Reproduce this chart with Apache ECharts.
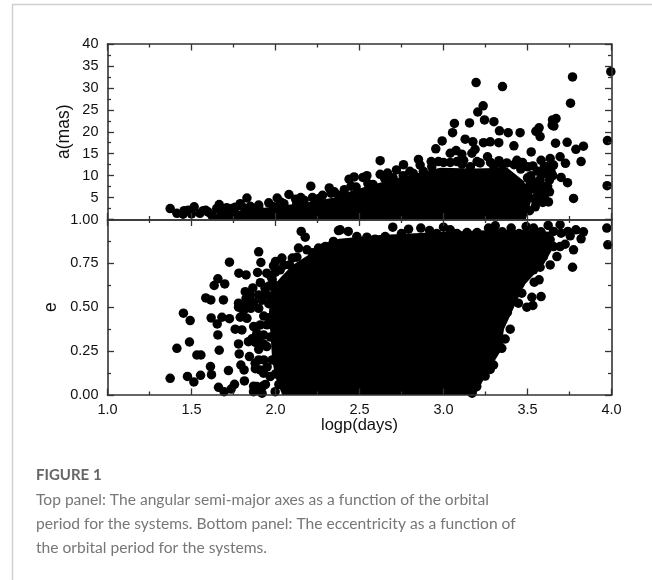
<!DOCTYPE html>
<html><head><meta charset="utf-8">
<style>html,body{margin:0;padding:0;background:#fff}#c{width:652px;height:580px}</style>
<script src="https://cdn.jsdelivr.net/npm/echarts@6/dist/echarts.min.js"></script>
</head><body><div id="c"></div>
<script>
// Fringe points: [logp, a(mas)]
const topPoints = [
[3.194,31.2],[3.351,30.3],[3.768,32.5],[3.756,26.5],[3.996,33.7],[3.976,18.0],[3.974,7.7],[3.236,25.9],[3.204,24.5],[3.244,22.7],
[3.30,22.3],[3.155,22.0],[3.065,21.9],[3.054,19.8],[3.333,20.2],[3.385,19.8],[3.456,19.8],[3.55,20.1],[3.569,20.9],[3.575,18.9],
[3.647,21.5],[3.657,21.3],[3.649,22.7],[3.67,23.0],[3.129,18.3],[3.175,17.7],[3.238,17.5],[3.278,17.7],[3.329,17.5],[2.992,17.9],
[2.954,16.1],[3.419,16.8],[3.667,17.4],[3.736,17.6],[3.788,16.0],[3.833,16.7],[3.819,13.2],[3.522,15.4],[3.04,15.1],[3.075,15.7],
[3.109,14.9],[3.169,15.1],[3.188,16.0],[2.623,13.4],[2.851,13.7],[2.762,12.5],[2.623,10.3],[2.667,10.6],[2.544,10.0],[2.52,9.6],
[2.468,9.7],[2.438,9.2],[2.927,13.2],[2.97,13.2],[2.861,12.4],[3.262,14.3],[3.218,12.9],[3.437,13.5],[3.377,12.9],[3.581,13.5],
[3.635,13.9],[3.694,14.3],[3.726,12.8],[3.532,12.2],[3.615,12.0],[3.655,12.4],[3.70,9.6],[3.738,8.4],[3.774,4.8],[3.575,9.1],
[3.516,8.2],[3.631,9.0],[3.631,6.3],[3.625,4.0],[3.591,3.9],[3.512,2.0],[3.546,2.9],[3.04,13.0],[3.11,12.6],[3.16,12.0],[3.3,12.0],
[3.35,12.4],[3.46,11.5],[3.5,9.5],[3.55,8.5],[3.6,10.5],[3.65,10.0],[3.6,7.0],[3.56,5.5],[3.51,5.0],[3.49,7.0],[2.72,11.3],[2.8,11.0],
[2.7,9.5],[2.58,8.0],[2.48,7.4],[2.41,6.8],
[3.5,6],[3.53,7],[3.55,4],[3.57,6.5],[3.58,8],[3.6,5],[3.62,7.5],[3.64,11],[3.52,10],[3.56,11],[3.6,12],[3.5,12],[3.47,13],[3.42,12.5],
[3.33,13.4],[3.28,13],[3.2,13.2],[3.12,13.5],[3.08,13.2],[3,13],[2.93,12],[2.88,11],[2.82,10.5],[2.76,10],[2.65,9.3],
[2.55,8.2],[2.45,7.6],[2.33,6],[2.28,5.5],[2.22,5],[2.15,5],[2.12,4.6],[2.03,4],[1.96,3.8],[1.9,2.8],[1.85,3],[1.8,3],[1.76,2.8],
[1.7,1.5],[1.65,2.5],[1.6,1.7],[1.57,2],[1.5,1.3],[1.45,1.2],
[1.373,2.5],[1.413,1.4],[1.456,2.0],[1.516,2.9],[1.48,2.1],[1.55,1.4],[1.585,2.1],[1.665,3.4],[1.79,3.6],[1.83,4.9],[1.71,2.7],
[1.74,2.5],[1.90,3.3],[1.87,2.5],[1.62,1.0],[2.01,4.9],[2.08,5.7],[2.21,7.6],[2.32,7.2],[1.99,2.9],[2.17,4.4],[2.05,3.6],[2.26,4.8],
[2.35,6.3],[2.375,5.5],[2.127,3.6],[1.68,2.0],[1.76,1.5],[1.82,1.8],[1.93,1.5]
];
// Fringe points: [logp, e]
const bottomPoints = [
[1.373,0.095],[1.413,0.266],[1.452,0.466],[1.492,0.424],[1.488,0.302],[1.476,0.106],[1.514,0.074],[1.532,0.228],[1.556,0.228],[1.554,0.112],
[1.585,0.553],[1.615,0.542],[1.617,0.439],[1.613,0.162],[1.619,0.116],[1.653,0.405],[1.681,0.443],[1.726,0.435],[1.657,0.342],[1.665,0.255],
[1.661,0.044],[1.694,0.019],[1.72,0.139],[1.736,0.034],[1.756,0.061],[1.635,0.624],[1.657,0.662],[1.698,0.633],[1.69,0.542],[1.726,0.757],
[1.782,0.694],[1.825,0.684],[1.90,0.816],[1.913,0.755],[1.893,0.698],[1.815,0.08],[1.78,0.523],[1.78,0.5],[1.82,0.589],[1.865,0.61],
[1.825,0.551],[1.853,0.494],[1.90,0.494],[1.79,0.443],[1.83,0.437],[1.76,0.375],[1.80,0.371],[1.78,0.291],[1.784,0.234],[1.794,0.171],
[1.813,0.143],[1.839,0.304],[1.889,0.352],[1.845,0.219],[1.879,0.181],[1.929,0.342],[1.909,0.143],[1.869,0.019],[1.889,0.048],[1.925,0.051],
[1.968,0.105],[1.929,0.124],[1.998,0.019],[2.067,0.038],[1.948,0.276],[1.909,0.399],[1.87,0.39],[1.938,0.608],[1.968,0.561],[1.948,0.694],
[1.988,0.736],[2.038,0.78],[2.028,0.713],[2.083,0.741],[2.127,0.785],[2.137,0.837],[2.187,0.827],[2.153,0.932],[2.177,0.899],[2.256,0.837],
[2.296,0.846],[2.345,0.875],[2.375,0.937],[1.96,0.44],[1.98,0.2],[1.96,0.52],[1.99,0.63],[1.97,0.33],[2.0,0.12],[2.02,0.06],[2.22,0.81],
[1.93,0.45],[1.95,0.40],[1.93,0.29],[1.90,0.26],[1.86,0.32],[1.88,0.30],[1.9,0.32],[1.93,0.2],[1.9,0.2],[1.88,0.15],[1.95,0.16],
[1.94,0.06],[1.9,0.03],[1.87,0.05],[1.92,0.01],[1.92,0.54],[1.94,0.58],[1.9,0.57],[1.96,0.62],[1.91,0.64],[1.97,0.68],[2.0,0.7],
[2.05,0.74],[2.1,0.78],[2.0,0.76],[1.98,0.66],[1.85,0.57],[1.87,0.53],[1.83,0.52],[1.81,0.48],
[2.433,0.932],[2.385,0.941],[2.698,0.956],[2.792,0.945],[2.865,0.951],[2.917,0.937],[3.0,0.956],[3.04,0.941],[3.308,0.964],[3.268,0.951],
[3.403,0.951],[3.492,0.96],[3.536,0.951],[3.623,0.966],[3.694,0.97],[3.70,0.922],[3.74,0.932],[3.754,0.907],[3.788,0.941],[3.833,0.93],
[3.819,0.89],[3.972,0.951],[3.978,0.856],[3.774,0.827],[3.768,0.728],[3.724,0.859],[3.694,0.846],[3.655,0.846],[3.675,0.789],[3.635,0.741],
[3.575,0.728],[3.536,0.713],[3.569,0.656],[3.54,0.643],[3.581,0.561],[3.526,0.557],[3.532,0.51],[3.496,0.5],[3.446,0.523],[3.466,0.58],
[3.456,0.633],[3.397,0.375],[3.367,0.319],[3.327,0.367],[3.347,0.266],[3.298,0.171],[3.248,0.108],[3.278,0.146],[3.198,0.048],[3.635,0.884],
[3.655,0.932],[3.595,0.789],[2.593,0.888],[2.653,0.903],[2.484,0.903],[2.544,0.899],[3.08,0.92],[3.14,0.926],[3.2,0.926],[3.6,0.86],
[2.75,0.92],[2.96,0.92],[3.35,0.93],[3.45,0.92],[3.58,0.93],[3.42,0.6],[3.38,0.47],[3.33,0.3],[3.26,0.16],[3.17,0.01]
];
// Outline of the solid black core, where single points cannot be told apart: [logp, e]
const bottomCoreOutline = [
[2.04,0],[2.0,0.1],[1.98,0.2],[1.97,0.35],[1.96,0.45],[1.97,0.6],[2.03,0.67],[2.1,0.74],[2.2,0.8],[2.27,0.86],[2.38,0.89],[2.6,0.91],
[3.0,0.93],[3.3,0.94],[3.5,0.94],[3.63,0.93],[3.66,0.85],[3.6,0.75],[3.48,0.625],[3.42,0.5],[3.36,0.375],[3.34,0.25],[3.26,0.125],[3.19,0]
];
// Outline of the solid black core: [logp, a(mas)]
const topCoreOutline = [
[1.62,0],[1.65,1.5],[1.8,2],[2.0,3],[2.1,3.5],[2.2,4],[2.35,5],[2.45,6.5],[2.58,8],[2.78,10],[2.98,11.8],[3.18,11.6],[3.38,11.8],
[3.48,8.7],[3.52,4],[3.49,0]
];
const captionHead = 'FIGURE 1';
const captionLines = [
'Top panel: The angular semi-major axes as a function of the orbital',
'period for the systems. Bottom panel: The eccentricity as a function of',
'the orbital period for the systems.'
];

const FONT = '"Liberation Sans", Arial, sans-serif';
const AX = '#333';
const line = {show:true,onZero:false,lineStyle:{color:AX,width:1.6}};
const tick = {show:true,inside:true,length:6.5,lineStyle:{color:AX,width:1.3}};
const minor = {show:true,splitNumber:2,length:3.5,lineStyle:{color:AX,width:1.3}};
const label = {color:'#111',fontFamily:FONT,fontSize:14.5};

function xAxis(gridIndex,position,showLabel,name){
  return {type:'value',gridIndex,position,min:1,max:4,interval:0.5,z:5,
    axisLine:line,axisTick:tick,minorTick:minor,splitLine:{show:false},
    axisLabel:Object.assign({},label,{show:showLabel,margin:7,formatter:v=>v.toFixed(1)}),
    name:name||'',nameLocation:'middle',nameGap:21.5,nameMoveOverlap:false,
    nameTextStyle:{color:'#111',fontFamily:FONT,fontSize:16.5}};
}
function yAxis(gridIndex,position,opts){
  return Object.assign({type:'value',gridIndex,position,z:5,
    axisLine:line,axisTick:tick,minorTick:minor,splitLine:{show:false},
    nameLocation:'middle',nameRotate:90,nameMoveOverlap:false,
    nameTextStyle:{color:'#111',fontFamily:FONT,fontSize:17.5}},opts);
}
function core(outline,xi,yi){
  return {type:'custom',coordinateSystem:'cartesian2d',xAxisIndex:xi,yAxisIndex:yi,data:outline,
    encode:{x:0,y:1},silent:true,z:2,
    renderItem(p,api){
      if(p.dataIndex!==0) return null;
      return {type:'polygon',shape:{points:outline.map(q=>api.coord(q))},style:{fill:'#000'}};
    }};
}
function dots(data,xi,yi){
  return {type:'scatter',xAxisIndex:xi,yAxisIndex:yi,data,symbolSize:9.5,clip:true,z:3,
    itemStyle:{color:'#000',opacity:1},large:false,animation:false};
}
const caption = [
  {type:'line',shape:{x1:12,y1:4.5,x2:652,y2:4.5},style:{stroke:'#cfcfcf',lineWidth:1.5}},
  {type:'line',shape:{x1:12.5,y1:4,x2:12.5,y2:580},style:{stroke:'#cfcfcf',lineWidth:1.5}},
  {type:'text',x:36,y:475,style:{text:captionHead,fill:'#666',font:'bold 15px Lato, sans-serif',textVerticalAlign:'middle',verticalAlign:'middle'}}
].concat(captionLines.map((t,i)=>({type:'text',x:36,y:500+i*24,
  style:{text:t,fill:'#777',font:'15.6px Lato, sans-serif',textVerticalAlign:'middle',verticalAlign:'middle'}})));

const chart = echarts.init(document.getElementById('c'),null,{renderer:'canvas'});
chart.setOption({
  animation:false,
  grid:[{left:107.5,right:40.5,top:44,height:175.5},{left:107.5,right:40.5,top:219.5,height:175.5}],
  xAxis:[xAxis(0,'bottom',false),xAxis(0,'top',false),xAxis(1,'bottom',true,'logp(days)'),xAxis(1,'top',false)],
  yAxis:[
    yAxis(0,'left',{min:0,max:40,interval:5,name:'a(mas)',nameGap:34,
      axisLabel:Object.assign({},label,{margin:9,formatter:v=>v===0?'':String(v)})}),
    yAxis(0,'right',{min:0,max:40,interval:5,axisLabel:{show:false}}),
    yAxis(1,'left',{min:0,max:1,interval:0.25,name:'e',nameGap:47,
      axisLabel:Object.assign({},label,{margin:9,formatter:v=>v.toFixed(2)})}),
    yAxis(1,'right',{min:0,max:1,interval:0.25,axisLabel:{show:false}})
  ],
  series:[core(topCoreOutline,0,0),dots(topPoints,0,0),core(bottomCoreOutline,2,2),dots(bottomPoints,2,2)],
  graphic:caption
});
</script></body></html>
